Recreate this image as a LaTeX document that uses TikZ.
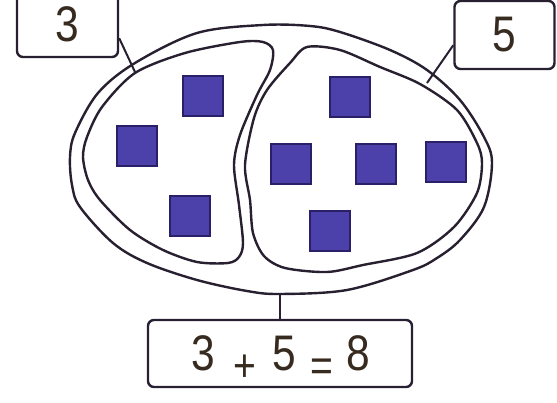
\documentclass[tikz,border=0pt]{standalone}
\usepackage{fontspec}
\newfontfamily\numfont[FakeStretch=0.85]{Liberation Sans}
\usetikzlibrary{calc}
\definecolor{ink}{RGB}{40,32,48}
\definecolor{txt}{RGB}{55,42,30}
\definecolor{sq}{RGB}{76,64,170}
\definecolor{sqd}{RGB}{42,32,104}
\tikzset{
 lab/.style={draw=ink, line width=2.4pt, rounded corners=6pt, inner sep=0pt, text=txt, font=\numfont\fontsize{50}{50}\selectfont},
 blob/.style={draw=ink, line width=2.4pt},
 cube/.style={draw=sqd, fill=sq, line width=1.5pt, minimum size=40pt, inner sep=0pt},
 lead/.style={draw=ink, line width=2pt}
}
\newcommand{\gl}[2]{\makebox[#1pt]{#2}}
\newcommand{\op}[1]{\smash{\raisebox{-11pt}{\fontsize{46}{46}\selectfont #1}}}
\begin{document}
\begin{tikzpicture}[x=1pt,y=-1pt]
\clip (0,0) rectangle (557,403);
\fill[white] (0,0) rectangle (557,403);
% outer egg
\draw[blob] plot[smooth cycle, tension=0.55] coordinates {
 (70,157) (75,133) (98,93) (135,63) (197,33) (263,25) (310,26) (340,32) (390,50)
 (427,70) (460,100) (484,137) (492,163) (484,207) (460,240) (437,258) (413,270)
 (347,290) (280,294) (247,291) (197,280) (147,263) (113,243) (80,207) (72,185)};
% left part
\draw[blob] plot[smooth cycle, tension=0.5] coordinates {
 (83,157) (87,137) (102,107) (135,73) (185,53) (240,42) (263,42) (273,50) (270,70)
 (257,95) (240,135) (234,165) (239,205) (243,243) (239,257) (228,263) (197,262)
 (163,250) (130,230) (100,200) (88,180)};
% right part
\draw[blob] plot[smooth cycle, tension=0.5] coordinates {
 (245,165) (250,200) (253,233) (264,256) (285,268) (327,272) (363,265) (417,253)
 (454,227) (477,193) (482,163) (477,143) (457,110) (420,84) (380,67) (340,50)
 (307,47) (290,63) (267,90) (254,118)};
% squares
\node[cube] (s1) at (203,96) {};
\node[cube] (s2) at (137,146) {};
\node[cube] (s3) at (190,216) {};
\node[cube] (s4) at (350,97) {};
\node[cube] (s5) at (291,164) {};
\node[cube] (s6) at (376,164) {};
\node[cube] (s7) at (446,162) {};
\node[cube] (s8) at (330,231) {};
% labels
\node[lab, minimum width=101pt, minimum height=65pt] (b3) at (67.5,24.5) {3};
\node[lab, minimum width=100pt, minimum height=68pt] (b5) at (504.5,35) {5};
\node[lab, minimum width=264pt, minimum height=67pt] (sum) at (280,353.5)
 {\gl{42}{3}\gl{40}{\op{+}}\gl{40}{5}\gl{34}{\op{=}}\gl{39}{8}};
% leaders
\coordinate (e3) at (135,72);
\coordinate (e5) at (427,83);
\coordinate (eb) at (280,293);
\draw[lead] ($(b3.south east)+(0,-20)$) -- (e3);
\draw[lead] ($(b5.south west)+(0,-25)$) -- (e5);
\draw[lead] (sum.north) -- (eb);
\end{tikzpicture}
\end{document}
